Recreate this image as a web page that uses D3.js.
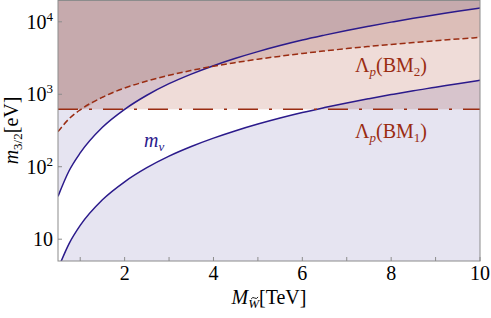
<!DOCTYPE html>
<html>
<head>
<meta charset="utf-8">
<script src="https://cdn.jsdelivr.net/npm/d3@7"></script>
<style>
  body { margin: 0; background: #fff; }
  svg { display: block; font-family: "Liberation Serif", "DejaVu Serif", serif; }
  .blend { mix-blend-mode: multiply; }
</style>
</head>
<body>
<svg id="chart" width="491" height="318"></svg>
<script>
// wino mass grid (TeV)
const massGrid = [0.5, 0.75, 1, 1.5, 2, 2.5, 3, 3.5, 4, 4.5, 5, 5.5, 6, 6.5, 7, 7.5, 8, 8.5, 9, 9.5, 10];
// neutrino-mass band, upper and lower edges (eV)
const mnuUpper = [39, 88, 155, 350, 620, 970, 1400, 1900, 2480, 3140, 3880, 4700, 5600, 6550, 7600, 8700, 9900, 11200, 12500, 14000, 15500];
const mnuLower = [3.9, 8.7, 15.5, 35, 62, 97, 140, 190, 248, 314, 388, 470, 560, 655, 760, 870, 990, 1120, 1250, 1400, 1560];
// Lambda_p (BM2) dashed bound (eV)
const bm2Bound = [305, 460, 610, 910, 1220, 1520, 1830, 2130, 2440, 2740, 3050, 3350, 3660, 3960, 4270, 4570, 4880, 5180, 5490, 5790, 6100];
// Lambda_p (BM1) flat bound (eV)
const bm1Bound = 620;

const xTicks = [1, 2, 3, 4, 5, 6, 7, 8, 9, 10];
const xTickLabels = [2, 4, 6, 8, 10];
const yTicks = [10, 100, 1000, 10000];

const svg = d3.select('#chart');
const margin = { left: 58, right: 11, top: 0, bottom: 57 };
const width = 491, height = 318;
const fs = 20, fsSub = 13;

const x = d3.scaleLinear().domain([0.5, 10]).range([margin.left, width - margin.right]);
const y = d3.scaleLog().domain([5, 20000]).range([height - margin.bottom, margin.top]);

const x0 = x.range()[0], x1 = x.range()[1];
const yTop = y.range()[1], yBot = y.range()[0];

svg.append('defs').append('clipPath').attr('id', 'plot')
    .append('rect').attr('x', x0).attr('y', yTop).attr('width', x1 - x0).attr('height', yBot - yTop);

const g = svg.append('g').attr('clip-path', 'url(#plot)');

const rows = massGrid.map((m, i) => ({ m, up: mnuUpper[i], lo: mnuLower[i], bm2: bm2Bound[i] }));
const curve = d3.curveMonotoneX;

// region outside the neutrino band
g.append('path')
    .datum(rows)
    .attr('fill', '#e6e4f1')
    .attr('d', d3.area().curve(curve).x(d => x(d.m)).y0(yTop - 5).y1(d => y(d.up)));
g.append('path')
    .datum(rows)
    .attr('fill', '#e6e4f1')
    .attr('d', d3.area().curve(curve).x(d => x(d.m)).y0(d => y(d.lo)).y1(yBot + 5));

// above BM1 line
g.append('rect')
    .attr('class', 'blend')
    .attr('x', x0).attr('y', yTop)
    .attr('width', x1 - x0).attr('height', y(bm1Bound) - yTop)
    .attr('fill', '#efdcd8');

// above BM2 curve
g.append('path')
    .datum(rows)
    .attr('class', 'blend')
    .attr('fill', '#ebddd9')
    .attr('d', d3.area().curve(curve).x(d => x(d.m)).y0(yTop - 5).y1(d => y(Math.max(d.bm2, bm1Bound))));

// lines
const blue = '#2b1a8b', red = '#9a2c12';
[mnuUpper, mnuLower].forEach(vals => {
    g.append('path')
        .datum(massGrid.map((m, i) => [m, vals[i]]))
        .attr('fill', 'none')
        .attr('stroke', blue)
        .attr('stroke-width', 1.5)
        .attr('d', d3.line().curve(curve).x(d => x(d[0])).y(d => y(d[1])));
});

g.append('path')
    .datum(massGrid.map((m, i) => [m, bm2Bound[i]]))
    .attr('fill', 'none')
    .attr('stroke', red)
    .attr('stroke-width', 1.5)
    .attr('stroke-dasharray', '6,3')
    .attr('d', d3.line().curve(curve).x(d => x(d[0])).y(d => y(d[1])));

g.append('line')
    .attr('x1', x0).attr('x2', x1)
    .attr('y1', y(bm1Bound)).attr('y2', y(bm1Bound))
    .attr('stroke', red)
    .attr('stroke-width', 1.5)
    .attr('stroke-dasharray', '20,11,3,11');

// frame
svg.append('rect')
    .attr('x', x0).attr('y', yTop + 0.5)
    .attr('width', x1 - x0).attr('height', yBot - yTop - 0.5)
    .attr('fill', 'none').attr('stroke', '#8c8c8c').attr('stroke-width', 1);

// ticks (inward)
svg.append('g').selectAll('line').data(xTicks).enter().append('line')
    .attr('x1', d => x(d)).attr('x2', d => x(d))
    .attr('y1', yBot).attr('y2', yBot - 4)
    .attr('stroke', '#8c8c8c');
svg.append('g').selectAll('line').data(yTicks).enter().append('line')
    .attr('x1', x0).attr('x2', x0 + 4)
    .attr('y1', d => y(d)).attr('y2', d => y(d))
    .attr('stroke', '#8c8c8c');

svg.append('g').selectAll('text').data(xTickLabels).enter().append('text')
    .attr('x', d => x(d)).attr('y', yBot + 19)
    .attr('text-anchor', 'middle')
    .attr('font-size', fs)
    .text(d => d);

const yl = svg.append('g').selectAll('text').data(yTicks).enter().append('text')
    .attr('x', x0 - 5).attr('y', d => y(d) + 7)
    .attr('text-anchor', 'end')
    .attr('font-size', fs);
yl.append('tspan').text('10');
yl.filter(d => d > 10).append('tspan')
    .attr('dy', -8).attr('font-size', fsSub)
    .text(d => Math.round(Math.log10(d)));

// axis labels
const xl = svg.append('text')
    .attr('x', (x0 + x1) / 2).attr('y', 304)
    .attr('text-anchor', 'middle').attr('font-size', fs);
xl.append('tspan').attr('font-style', 'italic').text('M');
xl.append('tspan').attr('font-style', 'italic').attr('font-size', fsSub).attr('dy', 4).text('W');
xl.append('tspan').attr('dy', -4).text('[TeV]');
// tilde over the subscript W, drawn as a small stroke
const wBox = xl.node().getExtentOfChar(1);
const tx = wBox.x + wBox.width / 2 + 1, ty = wBox.y + 2;
svg.append('path')
    .attr('d', `M${tx - 3.5},${ty + 1} Q${tx - 1.75},${ty - 1.5} ${tx},${ty} T${tx + 3.5},${ty - 1}`)
    .attr('fill', 'none').attr('stroke', '#000').attr('stroke-width', 0.9);

const ylab = svg.append('text')
    .attr('transform', `translate(18, ${(yTop + yBot) / 2}) rotate(-90)`)
    .attr('text-anchor', 'middle').attr('font-size', fs);
ylab.append('tspan').attr('font-style', 'italic').text('m');
ylab.append('tspan').attr('font-size', fsSub).attr('dy', 4).text('3/2');
ylab.append('tspan').attr('dy', -4).text('[eV]');

// annotations
const mnu = svg.append('text').attr('x', 144).attr('y', 147)
    .attr('font-size', fs).attr('fill', blue).attr('font-style', 'italic');
mnu.append('tspan').text('m');
mnu.append('tspan').attr('font-size', fsSub).attr('dy', 4).text('\u03bd');

function lambdaLabel(ypos, idx) {
    const t = svg.append('text').attr('x', 391).attr('y', ypos)
        .attr('text-anchor', 'middle').attr('font-size', fs).attr('fill', red);
    t.append('tspan').text('\u039b');
    t.append('tspan').attr('font-style', 'italic').attr('font-size', fsSub).attr('dy', 4).text('p');
    t.append('tspan').attr('dy', -4).text('(BM');
    t.append('tspan').attr('font-size', fsSub).attr('dy', 4).text(idx);
    t.append('tspan').attr('dy', -4).text(')');
}
lambdaLabel(72, '2');
lambdaLabel(138, '1');
</script>
</body>
</html>
